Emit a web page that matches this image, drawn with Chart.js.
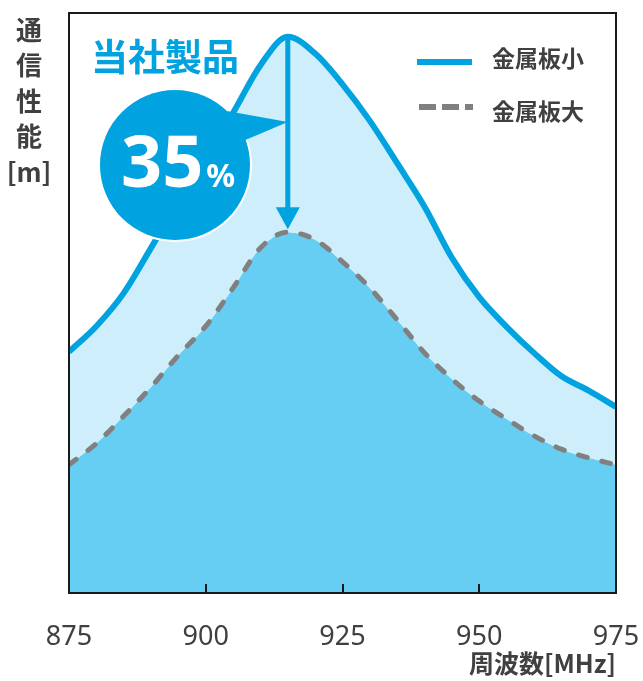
<!DOCTYPE html>
<html><head><meta charset="utf-8">
<script src="https://cdn.jsdelivr.net/npm/chart.js@4.4.1/dist/chart.umd.min.js"></script>
<style>html,body{margin:0;padding:0;background:#fff;}#wrap{width:643px;height:681px;position:relative;}</style>
</head><body><div id="wrap"><canvas id="c" width="643" height="681"></canvas></div>
<script>
const freqs = [875,880,885,890,895,900,905,910,915,920,925,930,935,940,945,950,955,960,965,970,975];
const smallPlate = [41.6,46.0,51.7,59.5,67.5,75.5,82.8,91.0,95.9,93.0,87.7,81.4,74.1,66.6,57.8,51.0,45.9,41.4,37.4,34.9,32.1];
const largePlate = [22.1,25.8,30.5,35.5,41.0,46.0,52.6,59.5,62.2,60.9,57.1,52.6,47.1,41.4,36.9,33.1,30.0,27.1,24.8,23.3,22.1];
const xTicks = [875,900,925,950,975];
const seriesNames = ['金属板小','金属板大'];
const yTitleChars = ['通','信','性','能','[m]'];
const xTitle = '周波数[MHz]';
const calloutTitle = '当社製品';
const calloutValue = '35';
const calloutUnit = '%';
const arrowFreq = 915;

const BLUE = '#00a3e0', LIGHT = '#cdeefa', DARK = '#66cef3', GRAY = '#808080', TXT = '#404040';
const CJK = '"Noto Sans CJK JP", "Noto Sans", sans-serif';
const LAT = '"Noto Sans", "Open Sans", sans-serif';

const toPts = arr => freqs.map((f,i)=>({x:f,y:arr[i]}));

const decor = {
  id:'decor',
  afterDatasetsDraw(chart){
    const {ctx, chartArea:ca, scales:{x,y}} = chart;
    ctx.save();
    // inward ticks
    ctx.strokeStyle = '#1a1a1a'; ctx.lineWidth = 2;
    xTicks.slice(1,-1).forEach(v=>{
      const px = Math.round(x.getPixelForValue(v));
      ctx.beginPath(); ctx.moveTo(px, ca.bottom); ctx.lineTo(px, ca.bottom-9); ctx.stroke();
    });
    // frame
    ctx.strokeStyle = '#1a1a1a'; ctx.lineWidth = 2;
    ctx.strokeRect(ca.left, ca.top, ca.right-ca.left, ca.bottom-ca.top);

    // y title (stacked)
    ctx.fillStyle = TXT; ctx.textAlign='center'; ctx.textBaseline='middle';
    ctx.font = 'bold 26px ' + CJK;
    yTitleChars.forEach((c,i)=>{ ctx.fillText(c, 29, 30 + i*35.5); });

    // legend
    const lx = ca.right - 199;
    ctx.lineCap = 'butt';
    ctx.strokeStyle = BLUE; ctx.lineWidth = 6; ctx.setLineDash([]);
    ctx.beginPath(); ctx.moveTo(lx, 62); ctx.lineTo(lx+55, 62); ctx.stroke();
    ctx.strokeStyle = GRAY; ctx.lineWidth = 6; ctx.setLineDash([17,6]);
    ctx.beginPath(); ctx.moveTo(lx+2, 107); ctx.lineTo(lx+56, 107); ctx.stroke();
    ctx.setLineDash([]);
    ctx.fillStyle = TXT; ctx.textAlign='left'; ctx.textBaseline='middle';
    ctx.font = 'bold 23px ' + CJK;
    ctx.fillText(seriesNames[0], lx+75, 58);
    ctx.fillText(seriesNames[1], lx+75, 111);

    // arrow from top peak to lower peak
    const idx = freqs.indexOf(arrowFreq);
    const ax = x.getPixelForValue(arrowFreq);
    const ay1 = y.getPixelForValue(smallPlate[idx]);
    const ay2 = y.getPixelForValue(largePlate[idx]) - 3;

    // bubble
    const cx = ca.left + 106, cy = 165, r = 75;
    ctx.beginPath(); ctx.arc(cx, cy, r+2, 0, Math.PI*2); ctx.fillStyle='#ffffff'; ctx.fill();
    ctx.fillStyle = BLUE;
    ctx.beginPath(); ctx.arc(cx, cy, r, 0, Math.PI*2); ctx.fill();
    ctx.beginPath(); ctx.moveTo(cx+52, cy-54); ctx.lineTo(ax, cy-43); ctx.lineTo(cx+68, cy-24); ctx.closePath(); ctx.fill();

    ctx.strokeStyle = BLUE; ctx.lineWidth = 5;
    ctx.beginPath(); ctx.moveTo(ax, ay1); ctx.lineTo(ax, ay2-20); ctx.stroke();
    ctx.fillStyle = BLUE;
    ctx.beginPath(); ctx.moveTo(ax-12, ay2-22); ctx.lineTo(ax+12, ay2-22); ctx.lineTo(ax, ay2); ctx.closePath(); ctx.fill();

    // bubble text
    ctx.fillStyle = '#ffffff'; ctx.textBaseline='alphabetic'; ctx.textAlign='left';
    ctx.font = 'bold 72px ' + LAT;
    ctx.fillText(calloutValue, 121, 187);
    const w = ctx.measureText(calloutValue).width;
    ctx.font = 'bold 32px ' + LAT;
    ctx.fillText(calloutUnit, 121 + w + 3, 187);

    // callout title
    ctx.fillStyle = BLUE; ctx.textBaseline='middle'; ctx.textAlign='left';
    ctx.font = 'bold 37px ' + CJK;
    ctx.fillText(calloutTitle, 91, 57);
    ctx.restore();
  }
};

new Chart(document.getElementById('c'), {
  type:'line',
  data:{
    datasets:[
      {label:seriesNames[0], data:toPts(smallPlate), borderColor:BLUE, borderWidth:6, backgroundColor:LIGHT, fill:'+1', pointRadius:0, cubicInterpolationMode:'monotone'},
      {label:seriesNames[1], data:toPts(largePlate), borderColor:GRAY, borderWidth:5, borderDash:[9,15], borderCapStyle:'round', backgroundColor:DARK, fill:'origin', pointRadius:0, cubicInterpolationMode:'monotone'}
    ]
  },
  options:{
    responsive:false, animation:false, devicePixelRatio:1,
    layout:{padding:{left:69, right:27, top:13, bottom:0}},
    plugins:{legend:{display:false}, tooltip:{enabled:false}, filler:{drawTime:'beforeDatasetsDraw'}},
    scales:{
      x:{type:'linear', min:875, max:975,
        afterBuildTicks(s){ s.ticks = xTicks.map(v=>({value:v})); },
        afterFit(s){ s.height = 88; s.paddingRight = 0; s.paddingLeft = 0; },
        grid:{display:false, drawTicks:false}, border:{display:false},
        ticks:{padding:28, color:TXT, font:{family:LAT, size:27}, maxRotation:0, autoSkip:false},
        title:{display:true, text:xTitle, align:'end', color:TXT, font:{family:CJK, size:25, weight:'bold'}, padding:{top:0,bottom:3}}
      },
      y:{min:0, max:100, display:false}
    }
  },
  plugins:[decor]
});
</script></body></html>
